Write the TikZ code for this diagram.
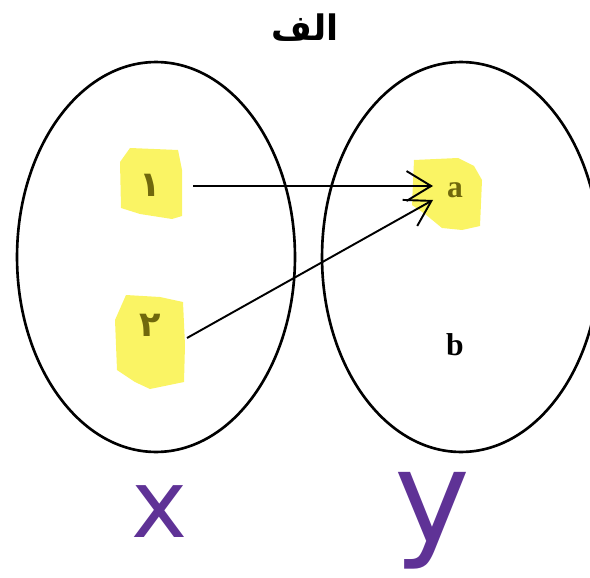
\documentclass[tikz,border=0pt]{standalone}
\usepackage{fontspec}
\setmainfont{Liberation Serif}
\newfontfamily\arabicfont[Script=Arabic]{DejaVu Sans}
\newfontfamily\handfont{DejaVu Sans}
\usepackage{xcolor}
\usetikzlibrary{arrows.meta,shapes,positioning,calc}
\TeXXeTstate=1

\definecolor{hilite}{RGB}{250,244,100}
\definecolor{hiltext}{RGB}{112,104,12}
\definecolor{penpurple}{RGB}{95,50,150}

\tikzset{
  setbox/.style={draw, ellipse, line width=1.5pt, inner sep=0pt,
                 minimum width=5.56cm, minimum height=7.8cm},
  elem/.style={font=\fontsize{18}{20}\selectfont\bfseries},
  digit/.style={font=\arabicfont\fontsize{20}{22}\selectfont\bfseries, text=hiltext},
  maparrow/.style={line width=1.1pt, -{Straight Barb[length=14pt,width=17pt,line width=1.1pt]}},
  hand/.style={text=penpurple}
}

\begin{document}
\begin{tikzpicture}[x=0.02cm, y=-0.02cm]
  \useasboundingbox (0,0) rectangle (590,577);
  \clip (0,0) rectangle (590,577);

  % title
  \node (title) at (305,28) {\arabicfont\fontsize{20}{24}\selectfont\bfseries\beginR الف\endR};

  % the two sets
  \node[setbox] (setX) at (156,257) {};
  \node[setbox] (setY) at (461,257) {};

  % highlighter marks
  \fill[hilite] (130,148) -- (178,150) -- (182,170) -- (182,216) -- (172,219)
    -- (140,214) -- (121,208) -- (120,162) -- cycle;
  \fill[hilite] (126,295) -- (160,297) -- (183,302) -- (185,345) -- (184,382)
    -- (150,389) -- (135,382) -- (117,370) -- (115,320) -- cycle;
  \fill[hilite] (414,160) -- (458,158) -- (474,166) -- (482,180) -- (480,226)
    -- (462,230) -- (442,228) -- (425,214) -- (412,205) -- cycle;

  % elements
  \node[digit] (n1) at (150,185) {۱};
  \node[digit] (n2) at (150,325) {۲};
  \node[elem, text=hiltext] (a) at (455,190) {a};
  \node[elem] (b) at (455,345) {b};

  \draw[maparrow] ($(n1)+(43,1)$) -- ($(a)+(-22,-4)$);
  \draw[maparrow] ($(n2)+(37,13)$) -- ($(a)+(-22,10)$);

  % hand written names
  \node[hand, font=\handfont\fontsize{54}{60}\selectfont] (nameX) at (160,512) {x};
  \node[hand, font=\handfont\fontsize{73}{76}\selectfont] (nameY) at (432,521) {y};
\end{tikzpicture}
\end{document}
